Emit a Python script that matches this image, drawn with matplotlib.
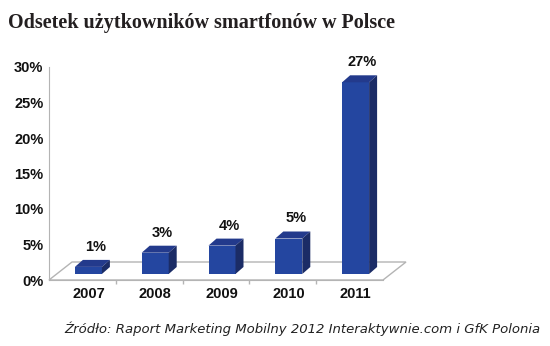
import numpy as np
import matplotlib
matplotlib.use("Agg")
import matplotlib.pyplot as plt
from matplotlib.patches import Polygon, Rectangle
from matplotlib.transforms import ScaledTranslation

# dane
years = ["2007", "2008", "2009", "2010", "2011"]
share = [1, 3, 4, 5, 27]
value_labels = ["1%", "3%", "4%", "5%", "27%"]
yticks = [0, 5, 10, 15, 20, 25, 30]
ytick_labels = ["0%", "5%", "10%", "15%", "20%", "25%", "30%"]

title = "Odsetek użytkowników smartfonów w Polsce"
source = "Źródło: Raport Marketing Mobilny 2012 Interaktywnie.com i GfK Polonia"

# kolory
FRONT = "#2446a0"
TOP = "#233a8c"
SIDE = "#1b2c66"
GRID = "#b4b4b4"
LABEL_FONT = dict(fontfamily="Liberation Sans", fontweight="bold",
                  fontsize=10.5, color="#111111")

W, H, DPI = 550, 346, 100
fig = plt.figure(figsize=(W / DPI, H / DPI), dpi=DPI)

# os w pikselach: lewa krawedz 49, dol 280, szer 334, wys 213
ax = fig.add_axes([49 / W, (H - 280) / H, 334 / W, 213 / H])
ax.set_xlim(-0.5, len(years) - 0.5)
ax.set_ylim(0, 30)

px_x = 334 / len(years)   # pikseli na kategorie
px_y = 213 / 30           # pikseli na 1%

bar_w = 27 / px_x
bx, by = 6 / px_x, 6 / px_y       # przesuniecie slupka w glab
dx, dy = 8 / px_x, 7 / px_y       # glebokosc slupka
fx, fy = 23 / px_x, 18 / px_y     # glebokosc podlogi

# podloga
x_lo, x_hi = -0.5, len(years) - 0.5
floor = Polygon([(x_lo, 0), (x_hi, 0), (x_hi + fx, fy), (x_lo + fx, fy)],
                closed=True, facecolor="white", edgecolor=GRID, lw=1,
                clip_on=False, zorder=1)
ax.add_patch(floor)

for i, v in enumerate(share):
    x0 = i - bar_w / 2 + bx
    y0 = by
    front = Rectangle((x0, y0), bar_w, v, facecolor=FRONT, edgecolor="none",
                      clip_on=False, zorder=3)
    top = Polygon([(x0, y0 + v), (x0 + bar_w, y0 + v),
                   (x0 + bar_w + dx, y0 + v + dy), (x0 + dx, y0 + v + dy)],
                  closed=True, facecolor=TOP, edgecolor="none", clip_on=False, zorder=3)
    side = Polygon([(x0 + bar_w, y0), (x0 + bar_w + dx, y0 + dy),
                    (x0 + bar_w + dx, y0 + v + dy), (x0 + bar_w, y0 + v)],
                   closed=True, facecolor=SIDE, edgecolor="none", clip_on=False, zorder=3)
    for p in (front, top, side):
        ax.add_patch(p)
    ax.annotate(value_labels[i], (i + bx + dx / 2, y0 + v + dy),
                xytext=(3, 6), textcoords="offset pixels", ha="center", va="bottom",
                annotation_clip=False, zorder=4, **LABEL_FONT)

# osie
for s in ("top", "right"):
    ax.spines[s].set_visible(False)
ax.spines["left"].set_color(GRID)
ax.spines["bottom"].set_color(GRID)
ax.spines["left"].set_zorder(2)
ax.spines["bottom"].set_zorder(2)

ax.set_yticks(yticks)
ax.set_yticklabels(ytick_labels, **LABEL_FONT)
ax.tick_params(axis="y", length=0, pad=4)

ax.set_xticks(range(len(years)))
ax.set_xticklabels(years, **LABEL_FONT)
ax.tick_params(axis="x", which="major", length=0, pad=5)
ax.set_xticks(np.arange(0.5, len(years) - 0.5, 1), minor=True)
ax.tick_params(axis="x", which="minor", length=3, color=GRID, width=1)
shift = ScaledTranslation(6 / DPI, 0, fig.dpi_scale_trans)
for lab in ax.get_xticklabels():
    lab.set_transform(lab.get_transform() + shift)

ax.patch.set_visible(False)

fig.text(8 / W, 1 - 28 / H, title, fontfamily="Liberation Serif", fontweight="bold",
         fontsize=14.5, color="#231f20", va="baseline", ha="left")
fig.text(540 / W, 1 - 333 / H, source, fontfamily="DejaVu Sans", style="italic",
         fontsize=9.5, color="#222222", va="baseline", ha="right")

fig.savefig("out.png", dpi=DPI)
